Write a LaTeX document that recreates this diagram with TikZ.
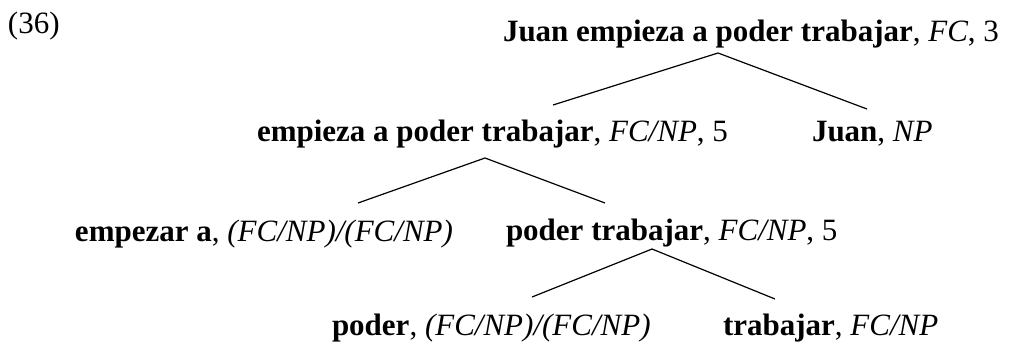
\documentclass[tikz,border=0pt]{standalone}
\usepackage{fontspec}
\setmainfont{Liberation Serif}
\begin{document}
\begin{tikzpicture}[x=0.5pt,y=-0.5pt,
  lbl/.style={anchor=base west, inner sep=0pt, outer sep=0pt, font=\fontsize{15.5}{18}\selectfont},
  branch/.style={line width=0.6pt, draw=black}]
\useasboundingbox (0,0) rectangle (1019,344);
% labels
\node[lbl] (ex)    at (8,33)    {(36)};
\node[lbl] (root)  at (503,41)  {\textbf{Juan empieza a poder trabajar}, \textit{FC}, 3};
\node[lbl] (vp)    at (257,141) {\textbf{empieza a poder trabajar}, \textit{FC/NP}, 5};
\node[lbl] (juan)  at (812,141) {\textbf{Juan}, \textit{NP}};
\node[lbl] (emp)   at (75,241)  {\textbf{empezar a}, \textit{(FC/NP)/(FC/NP)}};
\node[lbl] (pt)    at (506,240) {\textbf{poder trabajar}, \textit{FC/NP}, 5};
\node[lbl] (poder) at (332,335) {\textbf{poder}, \textit{(FC/NP)/(FC/NP)}};
\node[lbl] (trab)  at (723,335) {\textbf{trabajar}, \textit{FC/NP}};
% branch points
\coordinate (rootA) at (718,53);
\coordinate (vpT)   at (553,105);
\coordinate (juanT) at (867,109);
\coordinate (vpA)   at (485,158);
\coordinate (empT)  at (358,203);
\coordinate (ptT)   at (605,203);
\coordinate (ptA)   at (652,249);
\coordinate (poderT) at (532,297);
\coordinate (trabT) at (775,299);
% branches
\draw[branch] (vpT) -- (rootA) -- (juanT);
\draw[branch] (empT) -- (vpA) -- (ptT);
\draw[branch] (poderT) -- (ptA) -- (trabT);
\end{tikzpicture}
\end{document}
